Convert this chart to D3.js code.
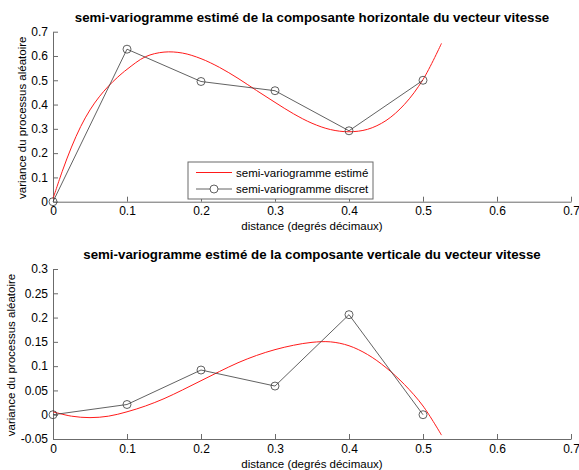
<!DOCTYPE html>
<html>
<head>
<meta charset="utf-8">
<script src="https://cdn.jsdelivr.net/npm/d3@7/dist/d3.min.js"></script>
<style>
  html, body { margin: 0; padding: 0; background: #fff; }
  svg { display: block; font-family: "Liberation Sans", Arial, Helvetica, sans-serif; }
</style>
</head>
<body>
<svg id="chart" width="579" height="470"></svg>
<script>
// Lag distances (degrés décimaux) of the discrete semi-variogram
const lags = [0, 0.1, 0.2, 0.3, 0.4, 0.5];
// Discrete semi-variogram, horizontal and vertical components
const discretH = [0, 0.628, 0.495, 0.457, 0.292, 0.500];
const discretV = [0, 0.021, 0.092, 0.059, 0.206, 0.0];

// Fitted (estimated) semi-variogram sampled along the distance axis
const fitX = [0, 0.0125, 0.025, 0.0375, 0.05, 0.0625, 0.075, 0.0875, 0.1, 0.125, 0.15, 0.175,
              0.2, 0.225, 0.25, 0.275, 0.3, 0.325, 0.35, 0.375, 0.4, 0.425, 0.45, 0.475, 0.5, 0.525];
const fitH = [0.012, 0.125, 0.225, 0.31, 0.378, 0.432, 0.476, 0.513, 0.545, 0.597, 0.616, 0.612,
              0.589, 0.553, 0.508, 0.458, 0.409, 0.362, 0.323, 0.297, 0.288, 0.298, 0.334, 0.401, 0.503, 0.652];
const fitVX = [0, 0.025, 0.05, 0.075, 0.1, 0.125, 0.15, 0.175, 0.2, 0.225, 0.25, 0.275,
               0.3, 0.325, 0.35, 0.375, 0.4, 0.425, 0.45, 0.475, 0.5, 0.525];
const fitV = [0.006, -0.003, -0.006, -0.003, 0.006, 0.018, 0.033, 0.051, 0.07, 0.089, 0.107, 0.122,
              0.134, 0.143, 0.149, 0.150, 0.142, 0.124, 0.097, 0.062, 0.018, -0.042];

// Axis ticks
const xTicks = [0, 0.1, 0.2, 0.3, 0.4, 0.5, 0.6, 0.7];
const xTickLabels = ["0", "0.1", "0.2", "0.3", "0.4", "0.5", "0.6", "0.7"];
const yTicksH = [0, 0.1, 0.2, 0.3, 0.4, 0.5, 0.6, 0.7];
const yTickLabelsH = ["0", "0.1", "0.2", "0.3", "0.4", "0.5", "0.6", "0.7"];
const yTicksV = [-0.05, 0, 0.05, 0.1, 0.15, 0.2, 0.25, 0.3];
const yTickLabelsV = ["-0.05", "0", "0.05", "0.1", "0.15", "0.2", "0.25", "0.3"];

const titles = [
  "semi-variogramme estimé de la composante horizontale du vecteur vitesse",
  "semi-variogramme estimé de la composante verticale du vecteur vitesse"
];
const xLabel = "distance (degrés décimaux)";
const yLabel = "variance du processus aléatoire";
const legendLabels = ["semi-variogramme estimé", "semi-variogramme discret"];

const svg = d3.select("#chart");
const axisColor = "#6b6b6b";
const lineColor = "#3a3a3a";
const fitColor = "#ff1a1a";

function panel(opts) {
  const x = d3.scaleLinear().domain([0, 0.7]).range([53, 571]);
  const y = d3.scaleLinear().domain(opts.yDomain).range([opts.bottom, opts.top]);
  const g = svg.append("g");

  // Axes with inward ticks, no surrounding box
  const xAxis = d3.axisBottom(x).tickValues(xTicks)
    .tickFormat((d, i) => xTickLabels[i]).tickSizeInner(-5).tickSizeOuter(0).tickPadding(5);
  const yAxis = d3.axisLeft(y).tickValues(opts.yTicks)
    .tickFormat((d, i) => opts.yTickLabels[i]).tickSizeInner(-5).tickSizeOuter(0).tickPadding(5);

  const gx = g.append("g").attr("transform", `translate(0,${opts.bottom})`).call(xAxis);
  const gy = g.append("g").attr("transform", `translate(53,0)`).call(yAxis);
  [gx, gy].forEach(a => {
    a.selectAll("path, line").attr("stroke", axisColor).attr("stroke-width", 1);
    a.selectAll("text").attr("fill", "#000").attr("font-size", 12)
      .attr("font-family", "Liberation Sans, Arial, sans-serif");
  });
  gx.selectAll("text").attr("dy", "0.71em");

  // Fitted curve
  g.append("path")
    .datum(opts.fitX.map((d, i) => [d, opts.fit[i]]))
    .attr("fill", "none")
    .attr("stroke", fitColor)
    .attr("stroke-width", 1)
    .attr("d", d3.line().x(d => x(d[0])).y(d => y(d[1])).curve(d3.curveCatmullRom));

  // Discrete semi-variogram
  const pts = lags.map((d, i) => [d, opts.discret[i]]);
  g.append("path")
    .datum(pts)
    .attr("fill", "none")
    .attr("stroke", lineColor)
    .attr("stroke-width", 0.8)
    .attr("d", d3.line().x(d => x(d[0])).y(d => y(d[1])));
  g.selectAll("circle.m").data(pts).enter().append("circle")
    .attr("cx", d => x(d[0])).attr("cy", d => y(d[1])).attr("r", 4)
    .attr("fill", "none").attr("stroke", lineColor).attr("stroke-width", 0.8);

  // Title and labels
  g.append("text").attr("x", 312).attr("y", opts.titleY)
    .attr("text-anchor", "middle").attr("font-weight", "bold").attr("font-size", 13.3)
    .text(opts.title);
  g.append("text").attr("x", 312).attr("y", opts.bottom + 28.5)
    .attr("text-anchor", "middle").attr("font-size", 11.5).text(xLabel);
  g.append("text")
    .attr("transform", `translate(${opts.yLabelX},${(opts.top + opts.bottom) / 2 + 1}) rotate(-90)`)
    .attr("text-anchor", "middle").attr("font-size", 11.5).text(yLabel);
  return { x, y, g };
}

panel({
  yDomain: [0, 0.7], top: 31.7, bottom: 201.7,
  yTicks: yTicksH, yTickLabels: yTickLabelsH,
  fitX: fitX, fit: fitH, discret: discretH,
  title: titles[0], titleY: 22, yLabelX: 26
});
panel({
  yDomain: [-0.05, 0.3], top: 269, bottom: 439,
  yTicks: yTicksV, yTickLabels: yTickLabelsV,
  fitX: fitVX, fit: fitV, discret: discretV,
  title: titles[1], titleY: 259, yLabelX: 15
});

// Legend (upper panel)
const leg = svg.append("g").attr("transform", "translate(188,162)");
leg.append("rect").attr("width", 185).attr("height", 37)
  .attr("fill", "#fff").attr("stroke", axisColor).attr("stroke-width", 1);
const legColors = [fitColor, lineColor];
legendLabels.forEach((lab, i) => {
  const ly = 10.5 + i * 16.5;
  leg.append("line").attr("x1", 8).attr("x2", 44).attr("y1", ly).attr("y2", ly)
    .attr("stroke", legColors[i]).attr("stroke-width", i ? 0.8 : 1);
  if (i === 1) {
    leg.append("circle").attr("cx", 26).attr("cy", ly).attr("r", 4)
      .attr("fill", "#fff").attr("stroke", lineColor).attr("stroke-width", 0.8);
  }
  leg.append("text").attr("x", 48).attr("y", ly).attr("dy", "0.35em")
    .attr("font-size", 11.5).text(lab);
});
</script>
</body>
</html>
